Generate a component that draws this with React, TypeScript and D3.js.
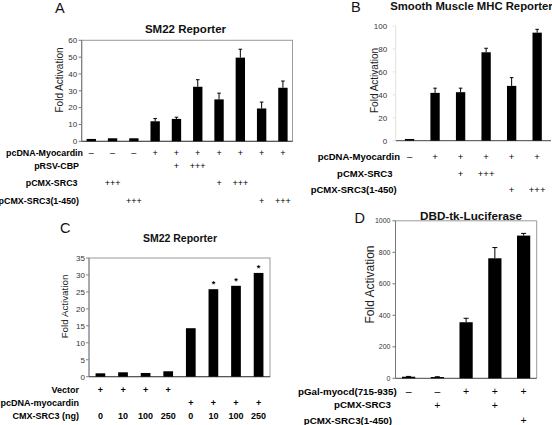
import React from "react";
import * as d3 from "d3";

// ---------- Panel A data ----------
const aValues = [1.4, 1.8, 1.8, 11.9, 13.3, 32.4, 24.9, 49.7, 19.5, 31.8];
const aErrors = [0.3, 0.2, 0.2, 1.6, 1.0, 4.2, 3.7, 5.0, 3.8, 4.0];
const aTicks = [0, 10, 20, 30, 40, 50, 60];
const aRowLabels = ["pcDNA-Myocardin", "pRSV-CBP", "pCMX-SRC3", "pCMX-SRC3(1-450)"];
const aRowMarks = [
  ["–", "–", "–", "+", "+", "+", "+", "+", "+", "+"],
  ["", "", "", "", "+", "+++", "", "", "", ""],
  ["", "+++", "", "", "", "", "+", "+++", "", ""],
  ["", "", "+++", "", "", "", "", "", "+", "+++"],
];

// ---------- Panel B data ----------
const bValues = [1.5, 41.7, 42.3, 77.1, 47.8, 94.2];
const bErrors = [0.3, 4.1, 3.5, 3.5, 7.2, 2.9];
const bTicks = [0, 20, 40, 60, 80, 100];
const bRowLabels = ["pcDNA-Myocardin", "pCMX-SRC3", "pCMX-SRC3(1-450)"];
const bRowMarks = [
  ["–", "+", "+", "+", "+", "+"],
  ["", "", "+", "+++", "", ""],
  ["", "", "", "", "+", "+++"],
];

// ---------- Panel C data ----------
const cValues = [1.0, 1.3, 1.1, 1.6, 14.3, 25.8, 26.8, 30.6];
const cStars = [false, false, false, false, false, true, true, true];
const cTicks = [0, 5, 10, 15, 20, 25, 30, 35];
const cRowLabels = ["Vector", "pcDNA-myocardin", "CMX-SRC3 (ng)"];
const cRowMarks = [
  ["+", "+", "+", "+", "", "", "", ""],
  ["", "", "", "", "+", "+", "+", "+"],
  ["0", "10", "100", "250", "0", "10", "100", "250"],
];

// ---------- Panel D data ----------
const dValues = [10, 8, 356, 762, 906];
const dErrors = [2, 2, 25, 68, 14];
const dTicks = [0, 200, 400, 600, 800, 1000];
const dRowLabels = ["pGal-myocd(715-935)", "pCMX-SRC3", "pCMX-SRC3(1-450)"];
const dRowMarks = [
  ["–", "–", "+", "+", "+"],
  ["", "+", "", "+", ""],
  ["", "", "", "", "+"],
];

const FONT = "'Liberation Sans', Arial, Helvetica, sans-serif";

type PanelCfg = {
  values: number[];
  errors?: number[];
  stars?: boolean[];
  ticks: number[];
  xRange: [number, number];
  padIn: number;
  padOut: number;
  yRange: [number, number];
  frame: "box" | "topRight" | "none";
  title: string; titleX: number; titleY: number; titleSize: number;
  letter: string; letterX: number; letterY: number;
  yLabelX: number; yLabelY: number; yLabelSize: number;
  tickSize: number; tickGap: number;
  capW: number;
  rowLabels: string[]; rowMarks: string[][];
  rowLabelX: number[]; rowY: number[]; rowLabelSize: number;
  markSize: number; markBold: boolean;
  axisColor: string;
};

function Panel({ c }: { c: PanelCfg }) {
  const n = c.values.length;
  const x = d3.scaleBand<number>().domain(d3.range(n)).range(c.xRange).paddingInner(c.padIn).paddingOuter(c.padOut);
  const yMax = c.ticks[c.ticks.length - 1];
  const y = d3.scaleLinear().domain([0, yMax]).range(c.yRange);
  const [x0, x1] = c.xRange;
  const yb = y(0), yt = y(yMax);
  const bw = x.bandwidth();
  return (
    <g fontFamily={FONT}>
      <text x={c.letterX} y={c.letterY} fontSize={14.5} fill="#111">{c.letter}</text>
      <text x={c.titleX} y={c.titleY} fontSize={c.titleSize} fontWeight="bold" textAnchor="middle" fill="#111">{c.title}</text>
      {c.frame === "box" && (
        <rect x={x0} y={yt} width={x1 - x0} height={yb - yt} fill="none" stroke="#9a9a9a" strokeWidth={1} />
      )}
      {c.frame === "topRight" && (
        <path d={`M${x0},${yt}H${x1}V${yb}`} fill="none" stroke="#9a9a9a" strokeWidth={1} />
      )}
      <line x1={x0} x2={x0} y1={yt} y2={yb} stroke={c.axisColor} strokeWidth={1} />
      <line x1={x0} x2={x1} y1={yb} y2={yb} stroke="#444" strokeWidth={1} />
      {c.ticks.map((t) => (
        <g key={t}>
          <line x1={x0 - 3} x2={x0} y1={y(t)} y2={y(t)} stroke={c.axisColor} strokeWidth={1} />
          <text x={x0 - c.tickGap} y={y(t)} dy="0.35em" fontSize={c.tickSize} textAnchor="end" fill="#333">{t}</text>
        </g>
      ))}
      <text transform={`translate(${c.yLabelX},${c.yLabelY}) rotate(-90)`} fontSize={c.yLabelSize} textAnchor="middle" dy="0.35em" fill="#222">Fold Activation</text>
      {c.values.map((v, i) => {
        const bx = x(i)!;
        const cx = bx + bw / 2;
        return (
          <g key={i}>
            <rect x={bx} y={y(v)} width={bw} height={yb - y(v)} fill="#000" />
            {c.errors && c.errors[i] > 0.5 && (
              <g stroke="#000" strokeWidth={1}>
                <line x1={cx} x2={cx} y1={y(v)} y2={y(v + c.errors[i])} />
                <line x1={cx - c.capW} x2={cx + c.capW} y1={y(v + c.errors[i])} y2={y(v + c.errors[i])} />
              </g>
            )}
            {c.stars && c.stars[i] && (
              <text x={cx} y={y(v) - 2} fontSize={9} fontWeight="bold" textAnchor="middle" fill="#000">*</text>
            )}
          </g>
        );
      })}
      {c.rowLabels.map((lab, r) => (
        <g key={lab + r}>
          <text x={c.rowLabelX[r]} y={c.rowY[r]} dy="0.35em" fontSize={c.rowLabelSize} fontWeight="bold" textAnchor="end" fill="#000">{lab}</text>
          {c.rowMarks[r].map((m, i) =>
            m ? (
              <text key={i} x={x(i)! + bw / 2} y={c.rowY[r]} dy="0.35em" fontSize={c.markSize} fontWeight={c.markBold ? "bold" : "normal"} textAnchor="middle" fill="#000">{m}</text>
            ) : null
          )}
        </g>
      ))}
    </g>
  );
}

const panelA: PanelCfg = {
  values: aValues, errors: aErrors, ticks: aTicks,
  xRange: [81.7, 292.5], padIn: 0.56, padOut: 0.23, yRange: [141.3, 40.3], frame: "box",
  title: "SM22 Reporter", titleX: 185.5, titleY: 33, titleSize: 11.5,
  letter: "A", letterX: 55, letterY: 12.5,
  yLabelX: 59.5, yLabelY: 80, yLabelSize: 10,
  tickSize: 8, tickGap: 4.5, capW: 1.8,
  rowLabels: aRowLabels, rowMarks: aRowMarks,
  rowLabelX: [83, 79, 77.5, 79], rowY: [153.3, 166, 183, 201], rowLabelSize: 8.9,
  markSize: 9, markBold: false, axisColor: "#777",
};

const panelB: PanelCfg = {
  values: bValues, errors: bErrors, ticks: bTicks,
  xRange: [395.7, 551], padIn: 0.635, padOut: 0.36, yRange: [140.7, 26], frame: "none",
  title: "Smooth Muscle MHC Reporter", titleX: 471.5, titleY: 9.5, titleSize: 11.3,
  letter: "B", letterX: 351, letterY: 12,
  yLabelX: 374, yLabelY: 80.5, yLabelSize: 10,
  tickSize: 8, tickGap: 8.5, capW: 1.8,
  rowLabels: bRowLabels, rowMarks: bRowMarks,
  rowLabelX: [400, 392.5, 396.7], rowY: [156.7, 174, 189.3], rowLabelSize: 9.5,
  markSize: 9.5, markBold: false, axisColor: "#e2e2e2",
};

const panelC: PanelCfg = {
  values: cValues, stars: cStars, ticks: cTicks,
  xRange: [89, 270], padIn: 0.57, padOut: 0.29, yRange: [376.7, 258], frame: "box",
  title: "SM22 Reporter", titleX: 180, titleY: 242, titleSize: 10.5,
  letter: "C", letterX: 60, letterY: 232.5,
  yLabelX: 64.5, yLabelY: 306.5, yLabelSize: 9.8,
  tickSize: 8, tickGap: 4, capW: 1.8,
  rowLabels: cRowLabels, rowMarks: cRowMarks,
  rowLabelX: [79, 79, 79], rowY: [390, 402.5, 416], rowLabelSize: 9,
  markSize: 9, markBold: true, axisColor: "#888",
};

const panelD: PanelCfg = {
  values: dValues, errors: dErrors, ticks: dTicks,
  xRange: [395.5, 536.7], padIn: 0.54, padOut: 0.225, yRange: [378.3, 220.8], frame: "topRight",
  title: "DBD-tk-Luciferase", titleX: 471, titleY: 219.5, titleSize: 11.7,
  letter: "D", letterX: 354.5, letterY: 222.5,
  yLabelX: 369.5, yLabelY: 284.5, yLabelSize: 12,
  tickSize: 7, tickGap: 5, capW: 2.5,
  rowLabels: dRowLabels, rowMarks: dRowMarks,
  rowLabelX: [396.7, 391, 392], rowY: [391.7, 405, 420.7], rowLabelSize: 9.75,
  markSize: 10.5, markBold: false, axisColor: "#777",
};

export default function App() {
  return (
    <svg width={552} height={425} style={{ position: "absolute", left: 0, top: 0, background: "#fff" }}>
      <rect width={552} height={425} fill="#fff" />
      <Panel c={panelA} />
      <Panel c={panelB} />
      <Panel c={panelC} />
      <Panel c={panelD} />
    </svg>
  );
}
